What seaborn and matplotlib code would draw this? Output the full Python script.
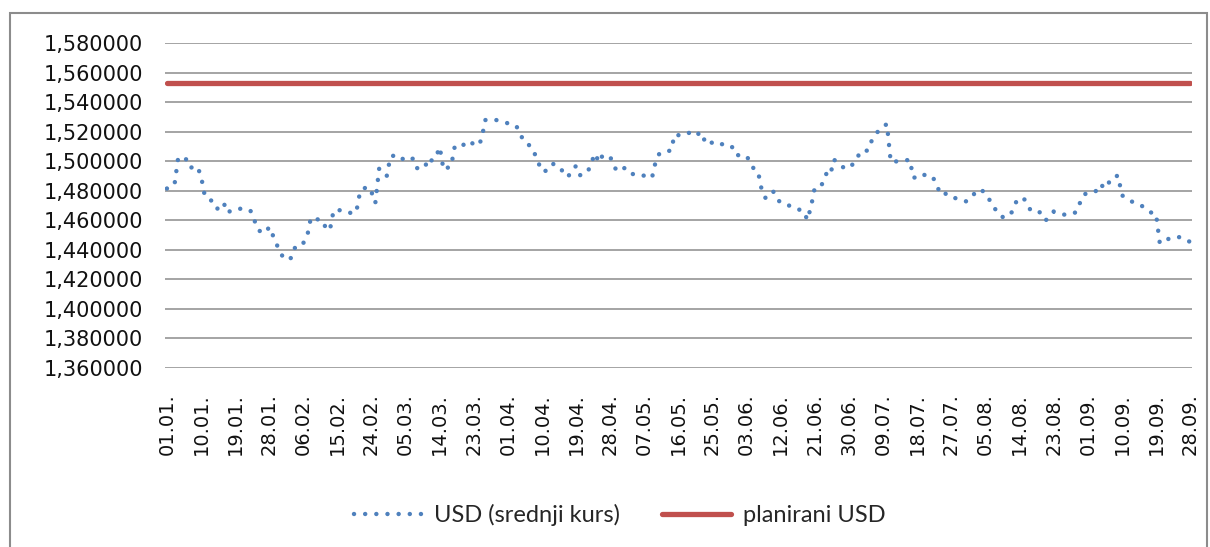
import pandas as pd
import matplotlib
matplotlib.use("Agg")
import matplotlib.pyplot as plt
import seaborn as sns
from matplotlib.ticker import FuncFormatter
from matplotlib.patches import Rectangle

# srednji kurs USD, dnevno od 01.01. do 28.09.
usd = [
    1.4815, 1.4824, 1.4840, 1.5027, 1.5020, 1.5016, 1.4955, 1.4960, 1.4966, 1.4900,
    1.4765, 1.4740, 1.4731, 1.4679, 1.4680, 1.4717, 1.4650, 1.4668, 1.4675, 1.4679,
    1.4676, 1.4670, 1.4668, 1.4607, 1.4535, 1.4520, 1.4514, 1.4555, 1.4496, 1.4435,
    1.4376, 1.4340, 1.4331, 1.4350, 1.4431, 1.4440, 1.4446, 1.4489, 1.4618, 1.4610,
    1.4605, 1.4602, 1.4544, 1.4532, 1.4668, 1.4668, 1.4668, 1.4667, 1.4655, 1.4643,
    1.4659, 1.4797, 1.4815, 1.4828, 1.4790, 1.4717, 1.4948, 1.4920, 1.4898, 1.5032,
    1.5038, 1.5043, 1.5020, 1.5000, 1.5010, 1.5018, 1.4953, 1.4953, 1.4953, 1.5022,
    1.5002, 1.5029, 1.5095, 1.4941, 1.4955, 1.4966, 1.5106, 1.5106, 1.5106, 1.5125,
    1.5138, 1.5110, 1.5104, 1.5144, 1.5278, 1.5285, 1.5282, 1.5278, 1.5271, 1.5265,
    1.5256, 1.5250, 1.5244, 1.5206, 1.5140, 1.5115, 1.5104, 1.5054, 1.4991, 1.4930,
    1.4935, 1.4941, 1.4982, 1.4965, 1.4950, 1.4898, 1.4900, 1.4946, 1.4968, 1.4905,
    1.4915, 1.4923, 1.4991, 1.5052, 1.4991, 1.5041, 1.5035, 1.5029, 1.4962, 1.4930,
    1.4943, 1.4957, 1.4935, 1.4912, 1.4912, 1.4912, 1.4900, 1.4892, 1.4887, 1.5000,
    1.5054, 1.5062, 1.5070, 1.5070, 1.5181, 1.5176, 1.5172, 1.5183, 1.5194, 1.5197,
    1.5201, 1.5136, 1.5150, 1.5161, 1.5115, 1.5115, 1.5115, 1.5115, 1.5110, 1.5104,
    1.5043, 1.5040, 1.5038, 1.5036, 1.4984, 1.4944, 1.4928, 1.4800, 1.4749, 1.4770,
    1.4795, 1.4742, 1.4720, 1.4704, 1.4700, 1.4697, 1.4685, 1.4670, 1.4663, 1.4602,
    1.4695, 1.4826, 1.4835, 1.4846, 1.4914, 1.4900, 1.5011, 1.4990, 1.4962, 1.4956,
    1.4950, 1.4980, 1.5011, 1.5068, 1.5070, 1.5072, 1.5140, 1.5176, 1.5217, 1.5235,
    1.5251, 1.4996, 1.4998, 1.4999, 1.5000, 1.5005, 1.5011, 1.4887, 1.4895, 1.4914,
    1.4906, 1.4900, 1.4898, 1.4846, 1.4785, 1.4795, 1.4763, 1.4755, 1.4750, 1.4747,
    1.4737, 1.4727, 1.4750, 1.4778, 1.4795, 1.4810, 1.4765, 1.4740, 1.4711, 1.4650,
    1.4630, 1.4616, 1.4630, 1.4656, 1.4720, 1.4751, 1.4751, 1.4715, 1.4661, 1.4658,
    1.4655, 1.4652, 1.4602, 1.4630, 1.4659, 1.4645, 1.4640, 1.4638, 1.4636, 1.4645,
    1.4656, 1.4722, 1.4776, 1.4782, 1.4788, 1.4792, 1.4844, 1.4830, 1.4817, 1.4883,
    1.4893, 1.4903, 1.4769, 1.4755, 1.4735, 1.4722, 1.4713, 1.4704, 1.4680, 1.4659,
    1.4650, 1.4645, 1.4444, 1.4460, 1.4471, 1.4480, 1.4489, 1.4486, 1.4483, 1.4468,
    1.4453,
]
planirani = 1.553

tick_labels = ["01.01.", "10.01.", "19.01.", "28.01.", "06.02.", "15.02.", "24.02.",
               "05.03.", "14.03.", "23.03.", "01.04.", "10.04.", "19.04.", "28.04.",
               "07.05.", "16.05.", "25.05.", "03.06.", "12.06.", "21.06.", "30.06.",
               "09.07.", "18.07.", "27.07.", "05.08.", "14.08.", "23.08.", "01.09.",
               "10.09.", "19.09.", "28.09."]
tick_step = 9

df = pd.DataFrame({"dan": range(len(usd)), "usd": usd})
df["plan"] = planirani

sns.set_style("white")
plt.rcParams["font.family"] = ["DejaVu Sans"]

fig = plt.figure(figsize=(12.10, 5.47), dpi=100)
ax = fig.add_axes([165 / 1210, 1 - 368 / 547, (1192 - 165) / 1210, (368 - 43) / 547])

sns.lineplot(x="dan", y="usd", data=df, ax=ax, color="#4F81BD", lw=3.2,
             ls=(0, (0.01, 2.5)), dash_capstyle="round", label="USD (srednji kurs)")
sns.lineplot(x="dan", y="plan", data=df, ax=ax, color="#C0504D", lw=3.8,
             solid_capstyle="round", label="planirani USD")

ax.set_ylim(1.36, 1.58)
ax.set_yticks([1.36 + 0.02 * i for i in range(12)])
ax.yaxis.set_major_formatter(FuncFormatter(lambda v, p: f"{v:.6f}".replace(".", ",")))
ax.set_xlim(-0.5, len(usd) - 0.5)
ax.set_xticks(range(0, len(usd), tick_step))
ax.set_xticklabels(tick_labels, rotation=90)
ax.tick_params(axis="y", length=0, pad=16, labelsize=15, labelcolor="#111111")
ax.tick_params(axis="x", length=0, pad=18, labelsize=14, labelcolor="#111111")
ax.yaxis.grid(True, color="#8c8c8c", lw=1.1)
ax.xaxis.grid(False)
for s in ax.spines.values():
    s.set_visible(False)
ax.set_xlabel("")
ax.set_ylabel("")

handles, labels = ax.get_legend_handles_labels()
ax.get_legend().remove()
fig.legend(handles, labels, loc="center", bbox_to_anchor=(0.512, 0.058), ncol=2,
           frameon=False, handlelength=2.9, columnspacing=1.8, handletextpad=0.5,
           prop={"family": "Lato", "size": 17})

fig.patches.append(Rectangle((10 / 1210, -0.05), (1207 - 10) / 1210, 1.05 - 13 / 547,
                             transform=fig.transFigure, fill=False,
                             edgecolor="#8c8c8c", lw=1.5))

fig.savefig("out.png", dpi=100)
